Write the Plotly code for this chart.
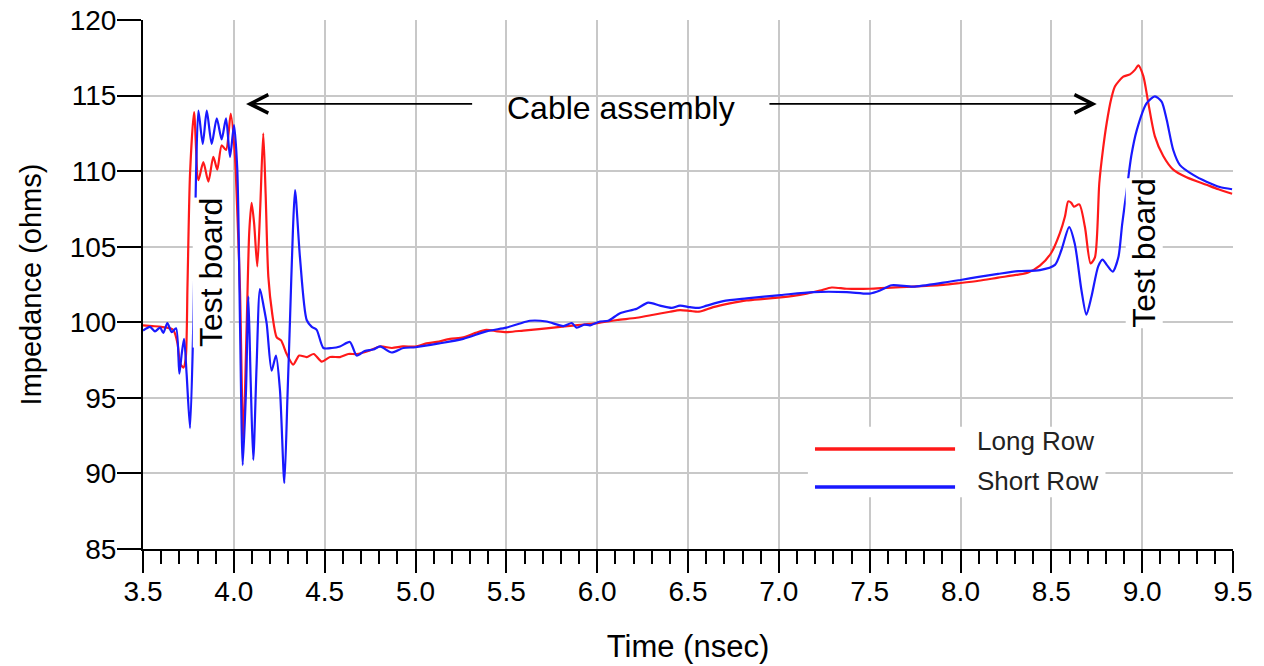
import plotly.graph_objects as go

# ---- data ----
long_x = [3.50, 3.55, 3.60, 3.65, 3.667, 3.69, 3.704, 3.722, 3.735, 3.745, 3.759, 3.781, 3.805, 3.832,
          3.860, 3.887, 3.909, 3.933, 3.957, 3.983, 4.006, 4.020, 4.034, 4.052, 4.071, 4.085, 4.098,
          4.112, 4.129, 4.145, 4.162, 4.175, 4.190, 4.212, 4.236, 4.26, 4.291, 4.327, 4.36, 4.401,
          4.44, 4.484, 4.53, 4.584, 4.63, 4.676, 4.74, 4.805, 4.87, 4.93, 5.0, 5.06, 5.117, 5.19,
          5.263, 5.33, 5.39, 5.45, 5.5, 5.593, 5.68, 5.759, 5.88, 6.0, 6.11, 6.218, 6.31, 6.401,
          6.456, 6.511, 6.56, 6.639, 6.73, 6.823, 6.92, 7.01, 7.08, 7.153, 7.227, 7.291, 7.374, 7.5,
          7.594, 7.74, 7.906, 8.0, 8.1, 8.207, 8.317, 8.373, 8.437, 8.5, 8.547, 8.575, 8.593, 8.61,
          8.624, 8.654, 8.685, 8.716, 8.740, 8.764, 8.785, 8.805, 8.83, 8.850, 8.896, 8.933, 8.96,
          8.979, 9.006, 9.034, 9.07, 9.116, 9.171, 9.244, 9.354, 9.42, 9.495]
long_y = [99.8, 99.75, 99.7, 99.6, 99.5, 98.6, 97.3, 97.0, 97.6, 102.5, 109.85, 113.9, 109.4, 110.6,
          109.3, 110.95, 110.1, 111.7, 111.4, 113.8, 111.0, 107.0, 102.1, 92.2, 99.9, 106.0, 107.9,
          106.5, 103.7, 107.5, 112.5, 108.5, 103.0, 100.5, 99.0, 98.8, 97.9, 97.2, 97.8, 97.7,
          97.9, 97.4, 97.7, 97.7, 97.9, 97.9, 98.1, 98.4, 98.3, 98.4, 98.4, 98.6, 98.7, 98.9,
          99.0, 99.3, 99.5, 99.4, 99.35, 99.45, 99.55, 99.65, 99.8, 99.95, 100.15, 100.3, 100.5, 100.7,
          100.8, 100.75, 100.7, 101.0, 101.25, 101.45, 101.55, 101.65, 101.75, 101.9, 102.1, 102.3, 102.22, 102.22,
          102.28, 102.36, 102.47, 102.6, 102.75, 102.95, 103.15, 103.3, 103.75, 104.6, 105.9, 107.0, 108.0, 107.9,
          107.65, 107.8, 106.3, 103.9, 104.3, 109.2, 111.5, 113.2, 114.8, 115.6, 116.25, 116.4, 116.7,
          117.0, 116.3, 114.5, 112.3, 111.0, 110.1, 109.6, 109.1, 108.8, 108.5]

short_x = [3.50, 3.52, 3.539, 3.566, 3.594, 3.612, 3.634, 3.658, 3.682, 3.700, 3.713, 3.726, 3.740,
           3.759, 3.777, 3.792, 3.805, 3.829, 3.851, 3.878, 3.906, 3.933, 3.957, 3.979, 4.001, 4.019,
           4.034, 4.049, 4.067, 4.080, 4.093, 4.107, 4.125, 4.144, 4.165, 4.181, 4.208, 4.232, 4.254,
           4.278, 4.295, 4.309, 4.325, 4.337, 4.364, 4.401, 4.429, 4.456, 4.493, 4.54, 4.584, 4.639,
           4.676, 4.72, 4.768, 4.805, 4.869, 4.933, 5.0, 5.13, 5.263, 5.39, 5.5, 5.57, 5.630, 5.722,
           5.814, 5.86, 5.887, 5.93, 5.961, 6.016, 6.061, 6.126, 6.218, 6.281, 6.346, 6.410, 6.456,
           6.511, 6.56, 6.603, 6.694, 6.823, 7.01, 7.19, 7.374, 7.5, 7.557, 7.621, 7.74, 7.906, 8.0,
           8.1, 8.207, 8.317, 8.437, 8.52, 8.556, 8.598, 8.629, 8.666, 8.693, 8.721, 8.758, 8.782,
           8.805, 8.838, 8.869, 8.89, 8.915, 8.940, 8.970, 9.025, 9.07, 9.107, 9.135, 9.171, 9.208,
           9.281, 9.354, 9.427, 9.495]
short_y = [99.45, 99.6, 99.7, 99.4, 99.65, 99.3, 99.95, 99.35, 99.6, 96.6, 97.9, 98.9, 96.6,
           93.0, 99.9, 109.85, 114.0, 111.8, 114.0, 111.8, 113.5, 112.1, 113.5, 110.95, 113.05, 110.1,
           99.9, 90.55, 95.5, 101.7, 96.0, 90.9, 97.0, 102.2, 101.0, 99.9, 96.8, 97.8, 95.5,
           89.35, 95.0, 100.1, 106.0, 108.75, 104.3, 100.15, 99.7, 99.5, 98.3, 98.3, 98.4, 98.7,
           97.8, 98.1, 98.2, 98.4, 98.0, 98.3, 98.35, 98.6, 98.9, 99.4, 99.65, 99.9, 100.1, 100.05,
           99.75, 99.95, 99.65, 99.85, 99.8, 100.05, 100.1, 100.6, 100.9, 101.3, 101.1, 100.95, 101.1,
           101.0, 100.95, 101.1, 101.4, 101.58, 101.8, 102.0, 102.0, 101.9, 102.1, 102.45, 102.36, 102.62, 102.8,
           103.0, 103.2, 103.38, 103.45, 103.8, 104.8, 106.3, 105.2, 102.1, 100.5, 101.7, 103.7, 104.15,
           103.8, 103.35, 104.3, 106.5, 108.75, 111.0, 112.7, 114.5, 114.95, 114.6, 113.4, 111.4, 110.4,
           109.75, 109.3, 108.95, 108.8]

series_names = ["Long Row", "Short Row"]
series_colors = ["rgb(255,25,25)", "rgb(25,25,255)"]
x_ticks = [3.5, 4.0, 4.5, 5.0, 5.5, 6.0, 6.5, 7.0, 7.5, 8.0, 8.5, 9.0, 9.5]
y_ticks = [85, 90, 95, 100, 105, 110, 115, 120]

FONT = "Liberation Sans, Arial, Helvetica, sans-serif"

fig = go.Figure()
fig.add_trace(go.Scatter(x=long_x, y=long_y, mode="lines", name=series_names[0],
                         line=dict(color=series_colors[0], width=2.2, shape="spline", smoothing=0.7),
                         showlegend=False))
fig.add_trace(go.Scatter(x=short_x, y=short_y, mode="lines", name=series_names[1],
                         line=dict(color=series_colors[1], width=2.2, shape="spline", smoothing=0.7),
                         showlegend=False))

fig.update_layout(
    width=1264, height=666,
    margin=dict(l=143, r=31, t=20, b=117, autoexpand=False),
    paper_bgcolor="white", plot_bgcolor="white",
    font=dict(family=FONT, color="black", size=28),
)

fig.update_xaxes(
    range=[3.5, 9.5], tickvals=x_ticks, ticktext=[f"{v:.1f}" for v in x_ticks],
    showgrid=True, gridcolor="#c8c8c8", gridwidth=2,
    showline=True, linecolor="black", linewidth=2,
    ticks="outside", ticklen=22, tickwidth=2, tickcolor="black",
    tickfont=dict(size=28, family=FONT), ticklabelstandoff=-6, ticklabeloverflow="allow",
    minor=dict(dtick=0.1, tick0=3.5, ticks="outside", ticklen=13, tickwidth=2,
               tickcolor="black", showgrid=False),
    title=dict(text="Time (nsec)", font=dict(size=31, family=FONT), standoff=30),
    zeroline=False, automargin=False,
)
fig.update_yaxes(
    range=[85, 120], tickvals=y_ticks,
    showgrid=True, gridcolor="#c8c8c8", gridwidth=2,
    showline=True, linecolor="black", linewidth=2,
    ticks="outside", ticklen=24, tickwidth=2, tickcolor="black",
    tickfont=dict(size=28, family=FONT), ticklabelstandoff=-5, ticklabeloverflow="allow",
    title=dict(text="Impedance (ohms)", font=dict(size=29, family=FONT), standoff=20),
    zeroline=False, automargin=False,
)

# Arrows and annotation texts
fig.add_annotation(x=4.067, y=114.45, ax=5.32, ay=114.45, axref="x", ayref="y",
                   xref="x", yref="y", text="", showarrow=True, arrowhead=5,
                   arrowsize=2.0, arrowwidth=1.8, arrowcolor="black", standoff=0)
fig.add_annotation(x=8.75, y=114.45, ax=6.94, ay=114.45, axref="x", ayref="y",
                   xref="x", yref="y", text="", showarrow=True, arrowhead=5,
                   arrowsize=2.0, arrowwidth=1.8, arrowcolor="black", standoff=0)
fig.add_annotation(x=6.13, y=114.2, xref="x", yref="y", text="Cable assembly",
                   showarrow=False, font=dict(size=32, family=FONT, color="black"))
fig.add_annotation(x=3.878, y=103.3, xref="x", yref="y", text="Test board", textangle=-90,
                   showarrow=False, font=dict(size=32, family=FONT, color="black"),
                   bgcolor="white", borderpad=0)
fig.add_annotation(x=9.01, y=104.6, xref="x", yref="y", text="Test board", textangle=-90,
                   showarrow=False, font=dict(size=32, family=FONT, color="black"),
                   bgcolor="white", borderpad=0)

# Legend box (drawn manually to match the long legend lines)
fig.add_shape(type="rect", xref="paper", yref="paper", x0=0.610, x1=0.883, y0=0.098, y1=0.231,
              fillcolor="white", line=dict(width=0), layer="above")
fig.add_shape(type="line", xref="paper", yref="paper", x0=0.6165, x1=0.745, y0=0.189, y1=0.189,
              line=dict(color=series_colors[0], width=3.5), layer="above")
fig.add_shape(type="line", xref="paper", yref="paper", x0=0.6165, x1=0.745, y0=0.117, y1=0.117,
              line=dict(color=series_colors[1], width=3.5), layer="above")
fig.add_annotation(x=0.763, y=0.204, xref="paper", yref="paper", text=series_names[0],
                   xanchor="left", yanchor="middle", showarrow=False,
                   font=dict(size=26, family=FONT, color="#222"))
fig.add_annotation(x=0.763, y=0.1285, xref="paper", yref="paper", text=series_names[1],
                   xanchor="left", yanchor="middle", showarrow=False,
                   font=dict(size=26, family=FONT, color="#222"))

# Remove the default 8px page margin so the figure sits at the window's corner.
fig.write_html("out.html", config={"displayModeBar": False},
               post_script="document.body.style.margin='0px';")
